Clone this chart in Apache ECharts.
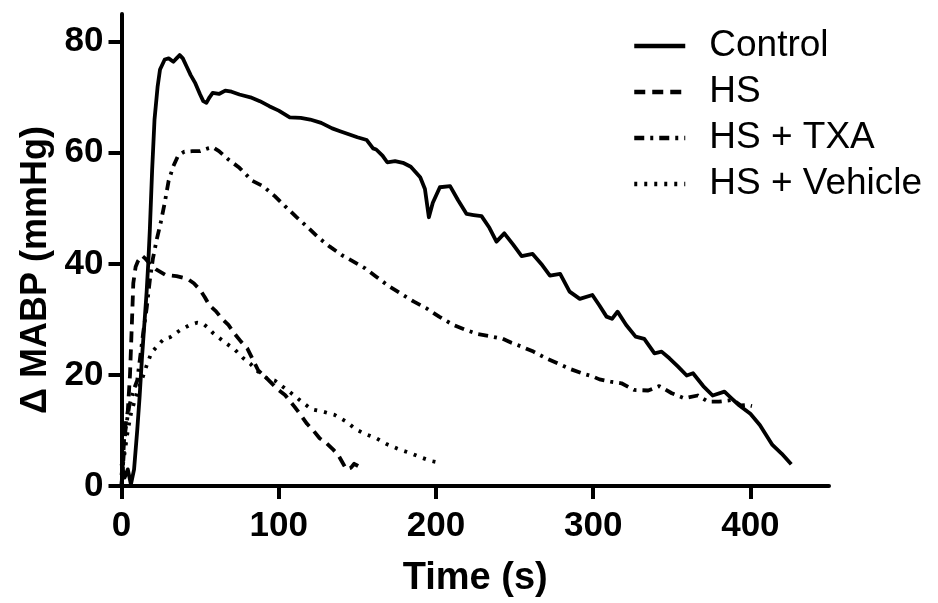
<!DOCTYPE html>
<html><head><meta charset="utf-8">
<script src="https://cdn.jsdelivr.net/npm/echarts@6/dist/echarts.min.js"></script>
<style>html,body{margin:0;padding:0;background:#fff}#c{width:938px;height:603px}</style>
</head><body><div id="c"></div>
<script>
const seriesNames = ['Control', 'HS', 'HS + TXA', 'HS + Vehicle'];
const xTicks = [0, 100, 200, 300, 400];
const yTicks = [0, 20, 40, 60, 80];

const controlT = [0,2,4,6,8,10,11.5,13,15,16,17,18,19.5,21,23,24.5,27.5,30,33,35,37,39,41.5,44,47,50,52,54,56,58,62,66,70,75,82,88,94,100,107,114,120,127,134,139,145,150,156,160,162,166,169,174,179,184,190,193,195.5,198,202.5,209,214,219.5,224,229,234,238.5,243.5,249,254.5,261.5,267,272.5,279,285,291.5,299.5,304,308.5,312,315.5,321,327,332.5,339,343.5,348.5,354,359.5,363.5,370,376,383.5,388,393,400,406,414,420,426];
const controlV = [4,1.5,3,0.3,3,10,16,23,31,35,40,46,57,66,72,75,76.8,77,76.4,77,77.6,77,75.5,74,72.5,70.5,69.3,69,70,70.8,70.6,71.2,71,70.5,70,69.3,68.4,67.6,66.4,66.3,66,65.4,64.4,63.9,63.3,62.8,62.3,60.8,60.6,59.5,58.3,58.5,58.2,57.5,55.6,53.5,48.4,51,53.8,54,51.5,49,48.8,48.6,46.5,44,45.5,43.5,41.4,41.8,40,37.9,38.2,35,33.7,34.4,32.5,30.5,30.1,31.4,29,26.9,26.5,23.9,24.2,23,21.5,19.9,20.3,18,16.3,17,15.8,14.5,13,11,7.4,5.8,3.9];

const hsT = [0,2,4,5.4,6.7,7.5,9,10.5,13,15,18,22,28,35,42,46,50,53,56,60,64,68,72,76,80,84,87,91,94.5,99,104,110,114,118,122,126,130,134.5,138,141,143,146,148,150.5];
const hsV = [0,10,13.5,20,30,36.5,39.5,40.5,41.5,41,40,39,38,37.8,37.3,36.5,35.3,34,32.5,31.5,30.1,29,27.4,26,24.8,22.5,20.8,19.8,18.8,17.5,16.4,14.3,12.8,11.2,10,8.6,7.8,6.6,5.5,4,3,3.3,4,3.6];

const txaT = [0,1,2.5,5,8,10,12,14,16,18,20,22.5,25,27.5,30,33,36,40,45,50,55,58,62,68,75,83,90,97.5,104,111,118,125,132.5,140,147,155,162,170,178,186,194,202,211,218,226,234,242.5,248,254.5,262,270,278,286,294,300,304,311,318,326,335,342,350,358,366.5,373,380,389,394,398,401];
const txaV = [0,4,10,14.5,17.5,19,23.5,28,32,37,41,44.5,47.5,51,55,57.6,59.5,60.2,60.3,60.3,60.8,61,60.3,58.8,57.3,55,54,52.2,50.4,48.5,46.7,44.8,43.1,41.6,40.5,39.2,37.7,36,34.6,33.2,32,30.5,29,28.2,27.4,27,26.5,25.8,25.1,24.2,23,22,21,20.2,19.7,19.2,18.8,18.5,17.3,17.2,18,16.7,15.8,16.3,15.2,15.2,15.5,14.5,14.6,14.4];

const vehT = [0,2,4,6,9,12,14,16,19,23,27,31,37,43.5,48,52,55,58,62,66,72,77.5,82,86,92,97.5,103,109,114.5,121,128,135.5,143,149,155.5,162,169,176.5,184,190,197,204];
const vehV = [2,6,10,13,16,18.5,20,21.7,24,25.3,26.5,26.8,28,29,29.4,29.2,28.5,27.6,26.7,25.8,24.6,23,22,20.8,19.5,19,17.8,16.5,15.2,13.8,13.4,12.8,11.6,10.2,9.3,8.6,7.5,6.6,5.9,5.2,4.5,4.1];

function pairs(t, v) { return t.map((x, i) => [x, v[i]]); }

const FONT = 'Liberation Sans, Arial, sans-serif';
const chart = echarts.init(document.getElementById('c'), null, { renderer: 'canvas' });

function mk(name, t, v, type) {
  return {
    name: name, type: 'line', data: pairs(t, v), showSymbol: false, symbol: 'none',
    smooth: false, animation: false,
    lineStyle: { color: '#000', width: 3.8, type: type, cap: 'butt', join: 'round' },
    itemStyle: { color: '#000' }
  };
}

chart.setOption({
  backgroundColor: '#fff',
  animation: false,
  grid: { left: 121.5, right: 109, top: 14, bottom: 115, containLabel: false },
  legend: {
    show: true, orient: 'vertical', left: 627, top: 22, itemWidth: 51, itemHeight: 14, itemGap: 8,
    itemStyle: { opacity: 0, borderWidth: 0 },
    lineStyle: { width: 4.5, color: '#000' },
    textStyle: { fontFamily: FONT, fontSize: 37, color: '#000', padding: [0, 0, 0, 19], lineHeight: 38 },
    data: seriesNames
  },
  xAxis: {
    type: 'value', min: 0, max: 450,
    name: 'Time (s)', nameLocation: 'middle', nameGap: 74,
    nameTextStyle: { fontFamily: FONT, fontSize: 38, fontWeight: 'bold', color: '#000' },
    axisLine: { show: true, onZero: false, lineStyle: { color: '#000', width: 4 } },
    axisTick: { show: true, length: 13, lineStyle: { color: '#000', width: 4 }, customValues: xTicks },
    axisLabel: { fontFamily: FONT, fontSize: 35, fontWeight: 'bold', color: '#000', margin: 23, customValues: xTicks },
    splitLine: { show: false }
  },
  yAxis: {
    type: 'value', min: 0, max: 85,
    name: 'Δ MABP (mmHg)', nameLocation: 'middle', nameGap: 66,
    nameTextStyle: { fontFamily: FONT, fontSize: 36, fontWeight: 'bold', color: '#000', padding: [0, 40, 0, 0] },
    axisLine: { show: true, onZero: false, lineStyle: { color: '#000', width: 4 } },
    axisTick: { show: true, length: 13, lineStyle: { color: '#000', width: 4 }, customValues: yTicks },
    axisLabel: { fontFamily: FONT, fontSize: 35, fontWeight: 'bold', color: '#000', margin: 18, customValues: yTicks },
    splitLine: { show: false }
  },
  series: [
    mk(seriesNames[0], controlT, controlV, 'solid'),
    mk(seriesNames[1], hsT, hsV, [11, 7]),
    mk(seriesNames[2], txaT, txaV, [10, 6, 3, 6]),
    mk(seriesNames[3], vehT, vehV, [3, 7])
  ]
});
</script>
</body></html>
